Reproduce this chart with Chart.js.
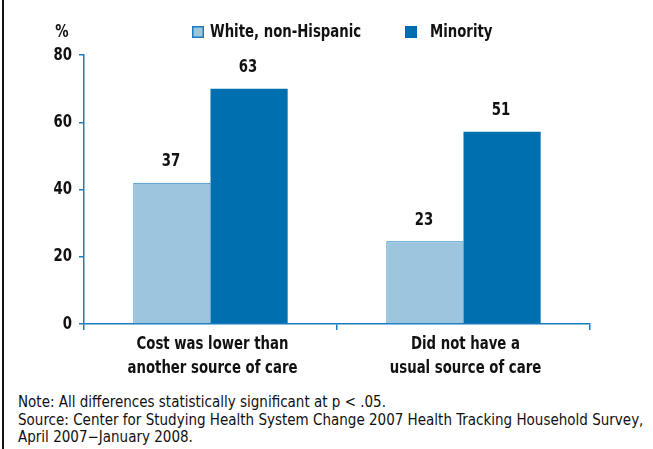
<!DOCTYPE html>
<html lang="en">
<head>
    <meta charset="UTF-8">
    <title>Reasons by race/ethnicity</title>
    <script src="https://cdn.jsdelivr.net/npm/chart.js"></script>
    <style>
        body {
            margin: 0;
            padding: 0;
            background-color: #fff;
            width: 653px;
            height: 449px;
            overflow: hidden;
            position: relative;
            font-family: 'DejaVu Sans Condensed', 'DejaVu Sans', sans-serif;
        }

        /* black frame line on the left side */
        .frame {
            position: absolute;
            left: 2px;
            top: 0;
            width: 2px;
            height: 449px;
            background-color: #111;
        }

        .chart-box {
            position: absolute;
            left: 0;
            top: 0;
            width: 653px;
            height: 385px;
        }

        .notes {
            position: absolute;
            left: 18px;
            top: 394px;
            font-size: 15px;
            line-height: 17.5px;
            color: #111;
            white-space: nowrap;
        }
    </style>
</head>
<body>
    <div class="frame"></div>
    <div class="chart-box">
        <canvas id="myChart" width="653" height="385"></canvas>
    </div>
    <div class="notes">
        Note: All differences statistically significant at p &lt; .05.<br>
        Source: Center for Studying Health System Change 2007 Health Tracking Household Survey,<br>
        April 2007&minus;January 2008.
    </div>

    <script>
        // data
        var categories = [
            ['Cost was lower than', 'another source of care'],
            ['Did not have a', 'usual source of care']
        ];
        var seriesNames = ['White, non-Hispanic', 'Minority'];
        // bar heights as drawn against the axis
        var whiteValues = [42, 24.6];
        var minorityValues = [70, 57.2];
        // numbers printed above the bars
        var whiteLabels = ['37', '23'];
        var minorityLabels = ['63', '51'];
        var yTicks = [0, 20, 40, 60, 80];

        var font = "'DejaVu Sans Condensed', 'DejaVu Sans', sans-serif";
        var boldFont = 'bold 18px ' + font;
        var squeeze = 0.82;   // the original type is a narrow face
        var blue = '#1a7cc0';
        var lightFill = '#9cc6de';
        var darkFill = '#006faf';

        // narrow text helper
        function narrowText(ctx, text, x, y, align) {
            ctx.save();
            ctx.translate(x, y);
            ctx.scale(squeeze, 1);
            ctx.textAlign = align;
            ctx.fillText(text, 0, 0);
            ctx.restore();
        }

        // tick labels, drawn at the positions the scales give
        var tickText = {
            id: 'tickText',
            afterDraw: function (chart) {
                var ctx = chart.ctx;
                var xs = chart.scales.x, ys = chart.scales.y;
                ctx.save();
                ctx.font = boldFont;
                ctx.fillStyle = '#111';
                ctx.textBaseline = 'middle';
                yTicks.forEach(function (v) {
                    narrowText(ctx, String(v), 72, ys.getPixelForValue(v), 'right');
                });
                categories.forEach(function (lines, i) {
                    var x = xs.getPixelForTick(i);
                    lines.forEach(function (line, k) {
                        narrowText(ctx, line, x + 2, xs.top + 20 + k * 24, 'center');
                    });
                });
                ctx.restore();
            }
        };

        // numbers above bars
        var valueLabels = {
            id: 'valueLabels',
            afterDatasetsDraw: function (chart) {
                var ctx = chart.ctx;
                var texts = [whiteLabels, minorityLabels];
                ctx.save();
                ctx.font = boldFont;
                ctx.fillStyle = '#111';
                ctx.textBaseline = 'middle';
                chart.data.datasets.forEach(function (ds, i) {
                    chart.getDatasetMeta(i).data.forEach(function (bar, j) {
                        narrowText(ctx, texts[i][j], bar.x - 1, bar.y - 21, 'center');
                    });
                });
                ctx.restore();
            }
        };

        // legend row and the "%" unit
        var topLegend = {
            id: 'topLegend',
            afterDraw: function (chart) {
                var ctx = chart.ctx;
                var starts = [192, 405];
                ctx.save();
                ctx.font = boldFont;
                ctx.fillStyle = '#111';
                ctx.textBaseline = 'middle';
                narrowText(ctx, '%', 62, 32, 'center');
                chart.data.datasets.forEach(function (ds, i) {
                    var x = starts[i];
                    ctx.fillStyle = ds.backgroundColor;
                    ctx.fillRect(x, 26, 12, 12);
                    if (ds.borderWidth) {
                        ctx.strokeStyle = ds.borderColor;
                        ctx.lineWidth = 1.5;
                        ctx.strokeRect(x + 0.75, 26.75, 10.5, 10.5);
                    }
                    ctx.fillStyle = '#111';
                    narrowText(ctx, ds.label, x + (i === 0 ? 18 : 25), 32, 'left');
                });
                ctx.restore();
            }
        };

        var ctx = document.getElementById('myChart').getContext('2d');
        var myChart = new Chart(ctx, {
            type: 'bar',
            data: {
                labels: categories,
                datasets: [{
                    label: seriesNames[0],
                    data: whiteValues,
                    backgroundColor: lightFill,
                    borderColor: blue,
                    borderWidth: 1,
                    borderSkipped: 'bottom'
                }, {
                    label: seriesNames[1],
                    data: minorityValues,
                    backgroundColor: darkFill,
                    borderWidth: 0
                }]
            },
            options: {
                responsive: false,
                animation: false,
                layout: {
                    padding: { top: 55, right: 63, left: 0, bottom: 0 }
                },
                plugins: {
                    legend: { display: false },
                    tooltip: { enabled: false }
                },
                datasets: {
                    bar: { barPercentage: 1, categoryPercentage: 0.61 }
                },
                scales: {
                    x: {
                        offset: true,
                        grid: {
                            offset: true,
                            drawOnChartArea: false,
                            drawTicks: true,
                            tickLength: 6,
                            color: blue,
                            lineWidth: 1.5
                        },
                        border: { color: blue, width: 1.5 },
                        ticks: { display: false },
                        afterFit: function (scale) { scale.height = 61; }
                    },
                    y: {
                        min: 0,
                        max: 80,
                        afterBuildTicks: function (scale) {
                            scale.ticks = yTicks.map(function (v) { return { value: v }; });
                        },
                        grid: {
                            drawOnChartArea: false,
                            drawTicks: true,
                            tickLength: 5,
                            color: blue,
                            lineWidth: 1.5
                        },
                        border: { color: blue, width: 1.5 },
                        ticks: { display: false },
                        afterFit: function (scale) { scale.width = 84; }
                    }
                }
            },
            plugins: [valueLabels, tickText, topLegend]
        });
    </script>
</body>
</html>
